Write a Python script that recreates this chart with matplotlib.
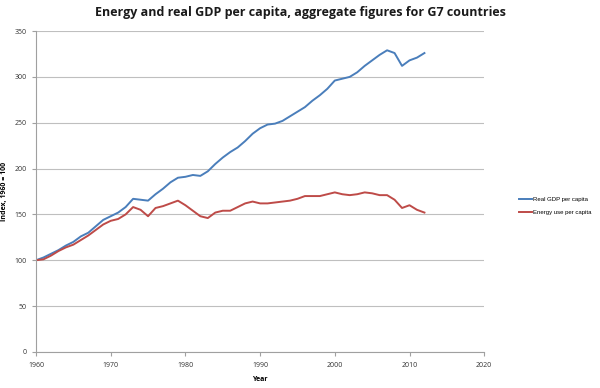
import matplotlib
matplotlib.use("Agg")
import matplotlib.pyplot as plt

years = list(range(1960, 2013))

gdp = [100, 103, 107, 111, 116, 120, 126, 130, 137, 144,
       148, 152, 158, 167, 166, 165, 172, 178, 185, 190,
       191, 193, 192, 197, 205, 212, 218, 223, 230, 238,
       244, 248, 249, 252, 257, 262, 267, 274, 280, 287,
       296, 298, 300, 305, 312, 318, 324, 329, 326, 312,
       318, 321, 326]

energy = [100, 101, 105, 110, 114, 117, 122, 127, 133, 139,
          143, 145, 150, 158, 155, 148, 157, 159, 162, 165,
          160, 154, 148, 146, 152, 154, 154, 158, 162, 164,
          162, 162, 163, 164, 165, 167, 170, 170, 170, 172,
          174, 172, 171, 172, 174, 173, 171, 171, 166, 157,
          160, 155, 152]

plt.rcParams["font.family"] = ["Open Sans", "DejaVu Sans"]

fig = plt.figure(figsize=(6, 3.88), dpi=100)
ax = fig.add_axes([0.06, 0.093, 0.747, 0.827])

ax.plot(years, gdp, color="#4A7EBB", lw=1.4, label="Real GDP per capita")
ax.plot(years, energy, color="#BE4B48", lw=1.4, label="Energy use per capita")

ax.set_xlim(1960, 2020)
ax.set_ylim(0, 350)
ax.set_xticks(range(1960, 2021, 10))
ax.set_yticks(range(0, 351, 50))
ax.yaxis.grid(True, color="#BFBFBF", lw=0.8)
ax.set_axisbelow(True)

for s in ["top", "right"]:
    ax.spines[s].set_visible(False)
for s in ["left", "bottom"]:
    ax.spines[s].set_color("#A0A0A0")
ax.tick_params(axis="both", labelsize=5, colors="#A0A0A0", labelcolor="#333333",
               length=3, width=0.8)
ax.tick_params(axis="x", pad=4)

ax.set_xlabel("Year", fontsize=5, fontweight="bold")
ax.set_ylabel("Index, 1960 = 100", fontsize=5, fontweight="bold")
ax.xaxis.set_label_coords(0.5, -0.075)
ax.yaxis.set_label_coords(-0.062, 0.5)

fig.suptitle("Energy and real GDP per capita, aggregate figures for G7 countries",
             x=0.5, y=0.985, fontsize=9, fontweight="bold", color="#1a1a1a")

ax.legend(loc="center left", bbox_to_anchor=(1.078, 0.455), frameon=False,
          borderaxespad=0, borderpad=0,
          prop={"family": "Liberation Sans", "size": 4.3},
          handlelength=2.2, handletextpad=0.2, labelspacing=1.3)

fig.savefig("out.png", dpi=100)
